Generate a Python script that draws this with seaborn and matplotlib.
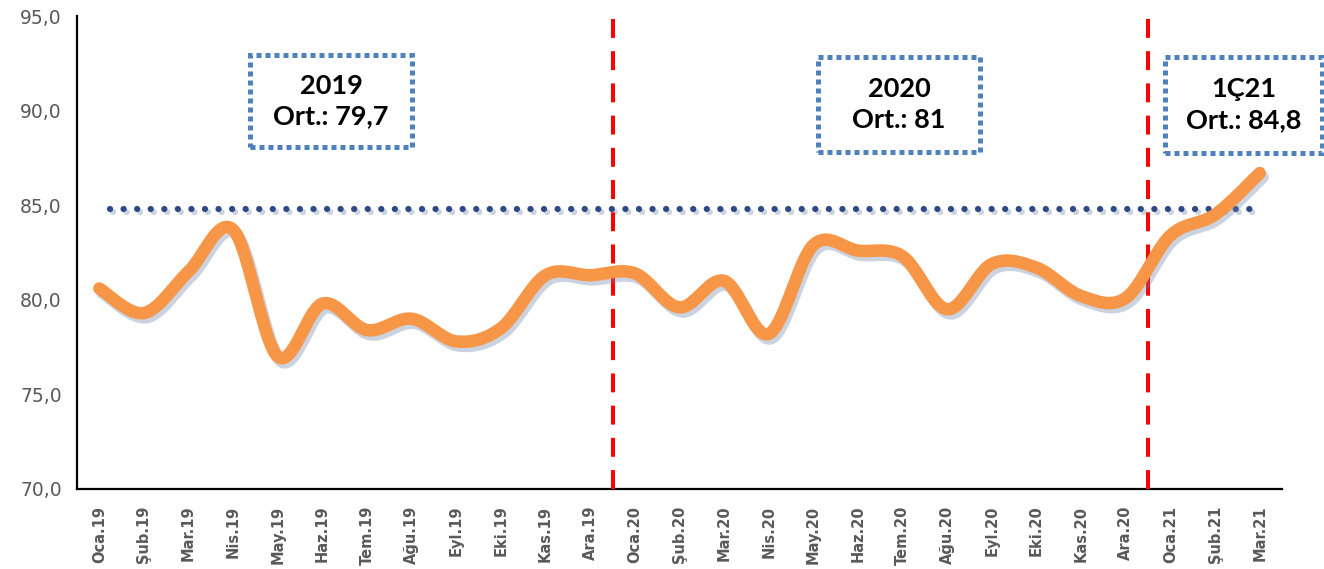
import numpy as np
import pandas as pd
import seaborn as sns
import matplotlib
matplotlib.use("Agg")
import matplotlib.pyplot as plt
from matplotlib import patheffects as pe
from matplotlib.patches import Rectangle

# ---------------- data ----------------
months = ["Oca.19", "Şub.19", "Mar.19", "Nis.19", "May.19", "Haz.19", "Tem.19",
          "Ağu.19", "Eyl.19", "Eki.19", "Kas.19", "Ara.19",
          "Oca.20", "Şub.20", "Mar.20", "Nis.20", "May.20", "Haz.20", "Tem.20",
          "Ağu.20", "Eyl.20", "Eki.20", "Kas.20", "Ara.20",
          "Oca.21", "Şub.21", "Mar.21"]
values = [80.6, 79.3, 81.5, 83.7, 77.0, 79.8, 78.4, 79.0, 77.8, 78.5, 81.3, 81.3,
          81.4, 79.6, 81.0, 78.2, 82.9, 82.6, 82.3, 79.5, 81.9, 81.7, 80.2, 80.1,
          83.4, 84.5, 86.7]
avg_level = 84.8
period_labels = ["2019\nOrt.: 79,7", "2020\nOrt.: 81", "1Ç21\nOrt.: 84,8"]
y_ticks = [70, 75, 80, 85, 90, 95]

# ---------------- style ----------------
sns.set_style("white")
plt.rcParams["font.family"] = ["DejaVu Sans"]

W, H = 1324, 569
fig = plt.figure(figsize=(W / 100, H / 100), dpi=100)
ax_l, ax_r, ax_t, ax_b = 77, 1282, 16, 489
ax = fig.add_axes([ax_l / W, (H - ax_b) / H, (ax_r - ax_l) / W, (ax_b - ax_t) / H])

n = len(values)
pos = np.arange(n, dtype=float)
vals = np.asarray(values, dtype=float)

# smoothed (Excel-like) curve through the data points: Catmull-Rom as cubic Bezier
def smooth(xp, yp, steps=40):
    P = np.column_stack([xp, yp])
    Pe = np.vstack([P[0], P, P[-1]])
    out = []
    t = np.linspace(0, 1, steps)[:, None]
    for i in range(len(P) - 1):
        p0, p1, p2, p3 = Pe[i], Pe[i + 1], Pe[i + 2], Pe[i + 3]
        c1 = p1 + (p2 - p0) / 6.0
        c2 = p2 - (p3 - p1) / 6.0
        seg = ((1 - t) ** 3) * p1 + 3 * ((1 - t) ** 2) * t * c1 + 3 * (1 - t) * t ** 2 * c2 + t ** 3 * p2
        out.append(seg if i == 0 else seg[1:])
    out = np.vstack(out)
    return out[:, 0], out[:, 1]

sx, sy = smooth(pos, vals)
curve = pd.DataFrame({"x": sx, "y": sy})

# average dotted line
ax.plot([pos[0] + 0.25, pos[-1]], [avg_level, avg_level], color="#2E4A86", lw=4.5,
        linestyle=(0, (0.01, 2.16)), dash_capstyle="round", zorder=2,
        path_effects=[pe.SimpleLineShadow(offset=(1.5, -2.5), shadow_color="#6b7fa8", alpha=0.35),
                      pe.Normal()])

# period separators (red dashed)
bounds = [i - 0.5 for i in range(1, n) if months[i][-2:] != months[i - 1][-2:]]
for b in bounds:
    ax.plot([b, b], [70, 95.1], color="#FF0000", lw=2.9, linestyle=(0, (4.7, 3.3)),
            clip_on=False, zorder=3)

# main orange line
sns.lineplot(data=curve, x="x", y="y", ax=ax, sort=False, estimator=None,
             color="#F79646", linewidth=9, zorder=4)
line = ax.get_lines()[-1]
line.set_solid_capstyle("round")
line.set_solid_joinstyle("round")
line.set_path_effects([pe.SimpleLineShadow(offset=(2, -3), shadow_color="#6b7fa8", alpha=0.35),
                       pe.Normal()])

# axes
ax.set_xlim(-0.5, n - 0.5)
ax.set_ylim(70, 95)
ax.set_xlabel("")
ax.set_ylabel("")
ax.set_xticks(pos)
ax.set_xticklabels(months, rotation=90, fontsize=10.5, fontweight="bold", color="#595959")
ax.set_xticks(np.arange(-0.5, n, 1.0), minor=True)
ax.tick_params(axis="x", which="major", length=0, pad=12)
ax.tick_params(axis="x", which="minor", length=6, width=1.5, color="black", direction="out")
ax.set_yticks(y_ticks)
ax.set_yticklabels([f"{v:.1f}".replace(".", ",") for v in y_ticks], fontsize=13.5, color="#595959")
ax.tick_params(axis="y", length=6, width=1.5, color="black", direction="out", pad=5)
for s in ["top", "right"]:
    ax.spines[s].set_visible(False)
for s in ["left", "bottom"]:
    ax.spines[s].set_color("black")
    ax.spines[s].set_linewidth(1.6)
ax.grid(False)

# annotation boxes (pixel layout -> axes fraction)
boxes_px = [(250, 55, 412, 147), (818, 57, 980, 152), (1165, 57, 1322, 153)]
for (x0, y0, x1, y1), lab in zip(boxes_px, period_labels):
    fx0 = (x0 - ax_l) / (ax_r - ax_l)
    fw = (x1 - x0) / (ax_r - ax_l)
    fy0 = (ax_b - y1) / (ax_b - ax_t)
    fh = (y1 - y0) / (ax_b - ax_t)
    rect = Rectangle((fx0, fy0), fw, fh, transform=ax.transAxes, fill=True, fc="white",
                     ec="#4F81BD", lw=3.6, linestyle=(0, (1, 0.8)), capstyle="butt",
                     joinstyle="miter", clip_on=False, zorder=5)
    ax.add_patch(rect)
    ax.text(fx0 + fw / 2, fy0 + fh / 2, lab, transform=ax.transAxes, ha="center", va="center",
            fontsize=19.5, fontweight="bold", family=["Lato", "DejaVu Sans"], color="black",
            linespacing=1.35, zorder=6, clip_on=False)

fig.savefig("out.png", dpi=100, facecolor="white")
